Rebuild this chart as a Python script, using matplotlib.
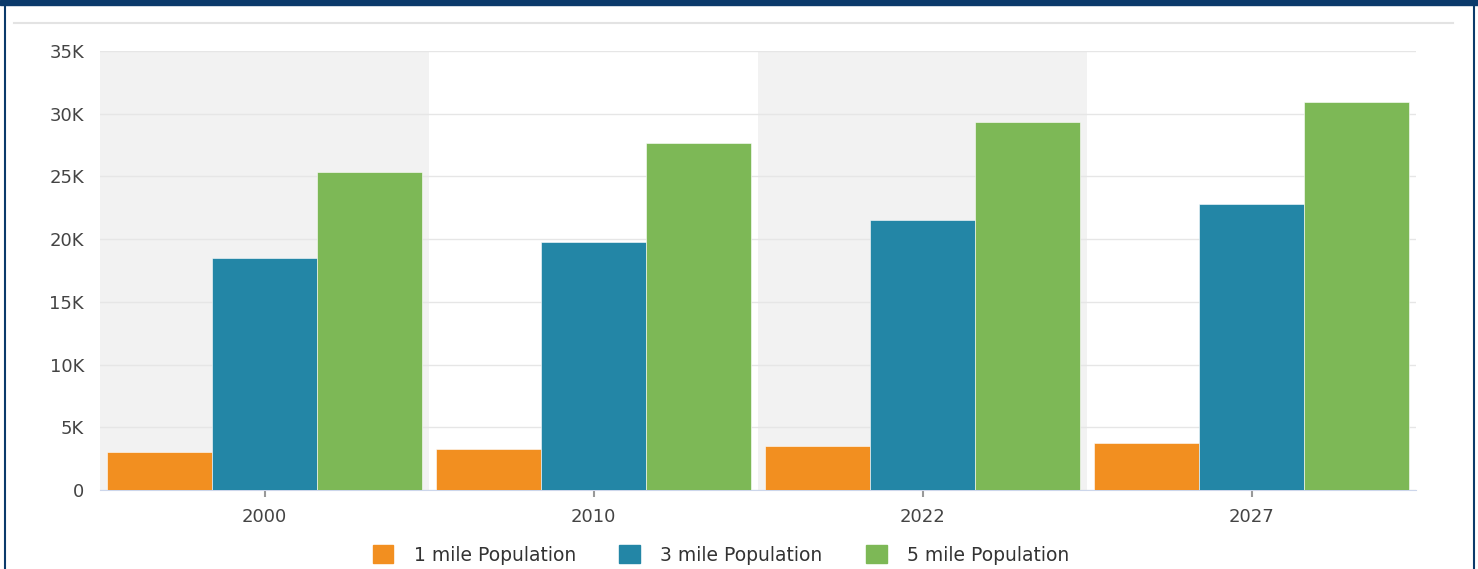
import matplotlib.pyplot as plt
from matplotlib.patches import Patch, Rectangle
from matplotlib.lines import Line2D
import numpy as np

plt.rcParams['font.family'] = ['DejaVu Sans']

years = ['2000', '2010', '2022', '2027']
pop_1mile = [3030, 3270, 3510, 3750]
pop_3mile = [18500, 19780, 21530, 22810]
pop_5mile = [25360, 27670, 29350, 30940]
series_names = ['1 mile Population', '3 mile Population', '5 mile Population']
colors = ['#f28f20', '#2386a6', '#7db856']
y_ticks = [0, 5000, 10000, 15000, 20000, 25000, 30000, 35000]
y_labels = ['0', '5K', '10K', '15K', '20K', '25K', '30K', '35K']

fig = plt.figure(figsize=(14.78, 5.69), dpi=100)
ax = fig.add_axes([100 / 1478, 79 / 569, 1316 / 1478, 439 / 569])

x = np.arange(len(years))
w = 0.319
for i, vals in enumerate([pop_1mile, pop_3mile, pop_5mile]):
    ax.bar(x + (i - 1) * w, vals, width=w, color=colors[i], zorder=3,
           edgecolor='white', linewidth=0.4)

# alternating category bands
for i in range(len(years)):
    if i % 2 == 0:
        ax.axvspan(i - 0.5, i + 0.5, color='#f2f2f2', zorder=0, lw=0)

ax.set_xlim(-0.5, len(years) - 0.5)
ax.set_ylim(0, 35000)
ax.set_yticks(y_ticks)
ax.set_yticklabels(y_labels)
ax.set_xticks(x)
ax.set_xticklabels(years)
ax.yaxis.grid(True, color='#e6e6e6', linewidth=1, zorder=1)
ax.set_axisbelow(True)
for s in ['top', 'right', 'left']:
    ax.spines[s].set_visible(False)
ax.spines['bottom'].set_color('#ccd6eb')
ax.tick_params(axis='y', length=0, pad=11.5, labelsize=13, labelcolor='#444444')
ax.tick_params(axis='x', length=5, color='#999999', width=1.5, pad=8,
               labelsize=13, labelcolor='#444444')

handles = [Patch(facecolor=c, edgecolor=c, label=n) for c, n in zip(colors, series_names)]
fig.legend(handles=handles, loc='center', bbox_to_anchor=(721 / 1478, 1 - 555 / 569),
           ncol=3, frameon=False, fontsize=13.5, handlelength=1.1, handleheight=1.1,
           columnspacing=2.3, handletextpad=1.1, labelcolor='#333333')

# frame decorations
fig.patches.append(Rectangle((0, 1 - 5 / 569), 1, 5 / 569, transform=fig.transFigure,
                             color='#0b3a6b', zorder=10))
fig.add_artist(Line2D([4.5 / 1478, 4.5 / 1478], [0, 1], color='#0b3a6b', lw=1.5))
fig.add_artist(Line2D([1474 / 1478, 1474 / 1478], [0, 1], color='#0b3a6b', lw=1.5))
fig.add_artist(Line2D([14 / 1478, 1453 / 1478], [1 - 22.5 / 569, 1 - 22.5 / 569],
                      color='#e3e3e3', lw=1.5))

fig.savefig('out.png', dpi=100)
